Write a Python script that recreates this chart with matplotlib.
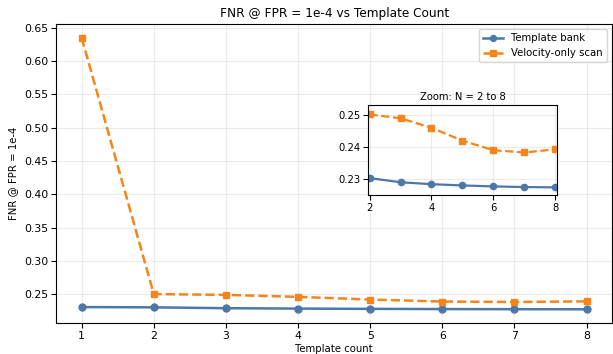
import matplotlib
matplotlib.use('Agg')
import matplotlib.pyplot as plt

counts = [1, 2, 3, 4, 5, 6, 7, 8]
template_bank = [0.2307, 0.2303, 0.2290, 0.2284, 0.2280, 0.2277, 0.2275, 0.2274]
velocity_only = [0.635, 0.2502, 0.2490, 0.2460, 0.2420, 0.2390, 0.2383, 0.2393]

blue = '#4C78A8'
orange = '#F58518'

fig, ax = plt.subplots(figsize=(6.13, 3.54), dpi=100)
fig.subplots_adjust(left=0.092, right=0.998, top=0.932, bottom=0.088)

ax.plot(counts, template_bank, color=blue, marker='o', ms=5, lw=1.8, label='Template bank')
ax.plot(counts, velocity_only, color=orange, marker='s', ms=5, lw=1.8, ls='--', label='Velocity-only scan')
ax.set_xlabel('Template count', fontsize=7.3, labelpad=2)
ax.set_ylabel('FNR @ FPR = 1e-4', fontsize=7.3, labelpad=4)
ax.set_title('FNR @ FPR = 1e-4 vs Template Count', fontsize=8.7, pad=5)
ax.tick_params(labelsize=7.8, pad=2.5)
ax.grid(True, alpha=0.25)
ax.legend(loc='upper right', fontsize=7.3, markerscale=0.85)

# zoomed inset on the flat part
axin = fig.add_axes([0.6003, 0.449, 0.3083, 0.254])
axin.plot(counts[1:], template_bank[1:], color=blue, marker='o', ms=4.5, lw=1.6)
axin.plot(counts[1:], velocity_only[1:], color=orange, marker='s', ms=4.5, lw=1.6, ls='--')
axin.set_xlim(1.95, 8.05)
axin.set_ylim(0.2250, 0.2531)
axin.set_title('Zoom: N = 2 to 8', fontsize=7.2, pad=4)
axin.tick_params(labelsize=7.2, pad=2)
axin.grid(True, alpha=0.25)

fig.savefig('out.png', dpi=100)
